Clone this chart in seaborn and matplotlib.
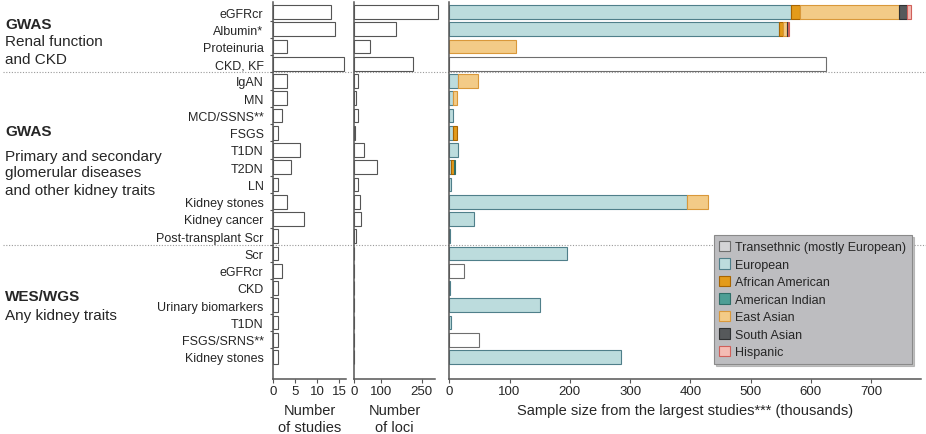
import numpy as np
import pandas as pd
import matplotlib
matplotlib.use('Agg')
import matplotlib.pyplot as plt
import matplotlib.transforms as mtransforms
from matplotlib.lines import Line2D
from matplotlib.patches import Patch
import seaborn as sns

# rows top to bottom
traits = ['eGFRcr', 'Albumin*', 'Proteinuria', 'CKD, KF',
          'IgAN', 'MN', 'MCD/SSNS**', 'FSGS', 'T1DN', 'T2DN', 'LN',
          'Kidney stones', 'Kidney cancer', 'Post-transplant Scr',
          'Scr', 'eGFRcr', 'CKD', 'Urinary biomarkers', 'T1DN',
          'FSGS/SRNS**', 'Kidney stones']
n_studies = [13, 14, 3, 16, 3, 3, 2, 1, 6, 4, 1, 3, 7, 1, 1, 2, 1, 1, 1, 1, 1]
n_loci = [310, 154, 60, 218, 16, 9, 16, 5, 37, 87, 16, 22, 25, 8, 2, 2, 2, 2, 2, 2, 2]

# sample size (thousands) by ancestry
transethnic = [0, 0, 0, 625, 0, 0, 0, 0, 0, 0, 0, 0, 0, 0, 0, 24, 0, 0, 0, 50, 0]
european = [568, 547, 0, 0, 14, 6, 6, 6, 15, 2, 2, 395, 41, 1, 195, 0, 1, 150, 3, 0, 285]
african_american = [14, 7, 0, 0, 0, 0, 0, 7, 0, 6, 0, 0, 0, 0, 0, 0, 0, 0, 0, 0, 0]
american_indian = [0, 0, 0, 0, 0, 0, 0, 0, 0, 2, 0, 0, 0, 0, 0, 0, 0, 0, 0, 0, 0]
east_asian = [165, 6, 111, 0, 34, 7, 0, 0, 0, 0, 0, 34, 0, 0, 0, 0, 0, 0, 0, 0, 0]
south_asian = [13, 2, 0, 0, 0, 0, 0, 0, 0, 0, 0, 0, 0, 0, 0, 0, 0, 0, 0, 0, 0]
hispanic = [6, 2, 0, 0, 0, 0, 0, 0, 0, 0, 0, 0, 0, 0, 0, 0, 0, 0, 0, 0, 0]

ancestries = ['Transethnic (mostly European)', 'European', 'African American',
              'American Indian', 'East Asian', 'South Asian', 'Hispanic']
face = {'Transethnic (mostly European)': '#ffffff', 'European': '#bcdcdd',
        'African American': '#e39b1b', 'American Indian': '#4d9e95',
        'East Asian': '#f3cb87', 'South Asian': '#56595b', 'Hispanic': '#f4bcb4'}
edge = {'Transethnic (mostly European)': '#6e6e6e', 'European': '#4f7f8a',
        'African American': '#a86400', 'American Indian': '#2e6e68',
        'East Asian': '#d9983a', 'South Asian': '#2f3132', 'Hispanic': '#d0605a'}

rows = list(range(len(traits)))
counts = pd.DataFrame({'row': rows, 'studies': n_studies, 'loci': n_loci})
records = []
for name, vals in zip(ancestries, [transethnic, european, african_american, american_indian,
                                   east_asian, south_asian, hispanic]):
    for r, v in zip(rows, vals):
        records.append({'row': r, 'ancestry': name, 'n': v})
samples = pd.DataFrame(records)

sns.set_style('white')
plt.rcParams['font.family'] = ['Liberation Sans', 'DejaVu Sans']

fig = plt.figure(figsize=(9.26, 4.35), dpi=100)
W, H = 926, 435
bottom, top = 380, 3
def add_ax(x0, x1):
    return fig.add_axes([x0 / W, 1 - bottom / H, (x1 - x0) / W, (bottom - top) / H])
ax1 = add_ax(273.3, 345.9)
ax2 = add_ax(353.9, 435.2)
ax3 = add_ax(449.3, 921)

spine_c = '#555555'
sns.barplot(data=counts, x='studies', y='row', orient='y', color='white', edgecolor=spine_c,
            linewidth=0.8, width=0.8, errorbar=None, ax=ax1)
sns.barplot(data=counts, x='loci', y='row', orient='y', color='white', edgecolor=spine_c,
            linewidth=0.8, width=0.8, errorbar=None, ax=ax2)
for p in ax2.patches:
    p.set_clip_on(False)

sns.histplot(data=samples, y='row', weights='n', hue='ancestry', hue_order=ancestries[::-1],
             multiple='stack', discrete=True, shrink=0.8, palette=face, alpha=1,
             linewidth=0.8, legend=False, ax=ax3)
for p in ax3.patches:
    if p.get_width() <= 0:
        p.set_visible(False)
        continue
    fc = matplotlib.colors.to_hex(p.get_facecolor())
    for a in ancestries:
        if face[a] == fc:
            p.set_edgecolor(edge[a])

for ax in (ax1, ax2, ax3):
    ax.set_ylim(len(traits) - 1 + 1.28, -0.58)
    ax.patch.set_visible(False)
    sns.despine(ax=ax)
    for s in ('left', 'bottom'):
        ax.spines[s].set_color(spine_c)
        ax.spines[s].set_linewidth(1.1)
    ax.tick_params(axis='x', length=3, width=0.8, color=spine_c, pad=1.5, labelsize=9.5,
                   direction='out', bottom=True)
    ax.set_ylabel('')

ax1.set_xlim(0, 16.5)
ax1.set_xticks([0, 5, 10, 15])
ax2.set_xlim(0, 300)
ax2.set_xticks([0, 100, 250])
ax3.set_xlim(0, 783)
ax3.set_xticks(range(0, 701, 100))

ax1.set_yticks(rows)
ax1.set_yticklabels(traits)
ax1.tick_params(axis='y', length=0, pad=7, labelsize=9)
ax1.set_yticks([r + 0.5 for r in rows[:-1]], minor=True)
ax1.tick_params(axis='y', which='minor', length=2.5, width=0.8, color=spine_c, left=True)
for ax in (ax2, ax3):
    ax.set_yticks([])

ax1.set_xlabel('Number\nof studies', fontsize=10.5, labelpad=4, linespacing=1.25)
ax2.set_xlabel('Number\nof loci', fontsize=10.5, labelpad=4, linespacing=1.25)
ax3.set_xlabel('Sample size from the largest studies*** (thousands)', fontsize=10.5, labelpad=4)

# dotted separators across the whole figure
trans = mtransforms.blended_transform_factory(fig.transFigure, ax1.transData)
for yb in (3.5, 13.5):
    fig.add_artist(Line2D([0.003, 1], [yb, yb], transform=trans, color='#9a9a9a',
                          linestyle=(0, (1, 1.5)), linewidth=0.8, zorder=-1))

# group labels
groups = [
    (25, 'GWAS', True), (42, 'Renal function', False), (60, 'and CKD', False),
    (131.7, 'GWAS', True), (156.7, 'Primary and secondary', False),
    (173.3, 'glomerular diseases', False), (190.7, 'and other kidney traits', False),
    (297, 'WES/WGS', True), (315.7, 'Any kidney traits', False),
]
for ypx, txt, bold in groups:
    fig.text(5 / W, 1 - ypx / H, txt, fontsize=11, va='center', ha='left',
             fontweight='bold' if bold else 'normal')

legend_face = dict(face)
legend_face['Transethnic (mostly European)'] = '#d4d4d6'
handles = [Patch(facecolor=legend_face[a], edgecolor=edge[a], linewidth=0.8, label=a)
           for a in ancestries]
leg = ax3.legend(handles=handles, loc='upper right', bbox_to_anchor=(912 / W, 1 - 236 / H),
                 bbox_transform=fig.transFigure, frameon=True, fancybox=False,
                 shadow={'ox': 1.5, 'oy': -1.5, 'color': '#9a9a9a', 'alpha': 0.6},
                 facecolor='#bdbdc0', edgecolor='#8a8a8a', framealpha=1, fontsize=9,
                 handlelength=0.9, handleheight=0.9, labelspacing=0.4, borderpad=0.45,
                 handletextpad=0.4, borderaxespad=0)
leg.get_frame().set_linewidth(0.8)

fig.savefig('out.png', dpi=100)
